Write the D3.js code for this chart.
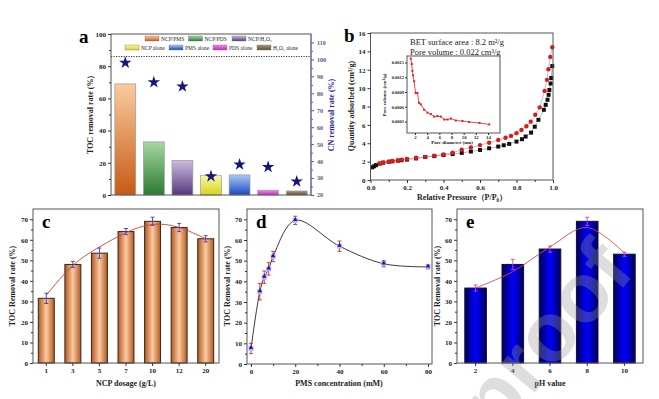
<!doctype html>
<html lang="en">
<head>
<meta charset="UTF-8">
<title>TOC removal</title>
<script src="https://cdn.jsdelivr.net/npm/d3@7"></script>
<style>
body { margin: 0; background: #fff; }
text { font-family: "Liberation Serif", "Times New Roman", serif; font-weight: bold; fill: #222; }
</style>
</head>
<body>
<svg id="fig" width="659" height="399"></svg>
<script>
// ---- panel a: systems
var sysNames = ['NCP/PMS', 'NCP/PDS', 'NCP/H₂O₂', 'NCP alone', 'PMS alone', 'PDS alone', 'H₂O₂ alone'];
var tocA = [69, 33, 21.5, 12, 12.5, 3, 2.5];
var cnA = [98, 86.5, 84, 31, 38, 36.5, 28];
var lightA = ['#fccb9e', '#a6d8a2', '#cdbbe0', '#f8f6a8', '#a8c8f4', '#f48ae8', '#a89a7a'];
var darkA = ['#c65a14', '#2c7a30', '#55387e', '#d8d418', '#1c48c0', '#d020c4', '#5c5030'];

// ---- panel b: N2 isotherm + pore size
var adsP = [0.01, 0.02, 0.03, 0.05, 0.07, 0.1, 0.12, 0.15, 0.17, 0.2, 0.25, 0.3, 0.35, 0.4, 0.45, 0.5, 0.55, 0.6, 0.65, 0.7, 0.73, 0.76, 0.8, 0.83, 0.85, 0.88, 0.9, 0.92, 0.95, 0.96, 0.97, 0.976, 0.98, 0.987, 0.99, 0.996];
var adsQ = [1.38, 1.5, 1.62, 1.78, 1.88, 1.98, 2.03, 2.1, 2.15, 2.22, 2.35, 2.5, 2.6, 2.72, 2.82, 2.95, 3.1, 3.27, 3.45, 3.64, 3.78, 3.93, 4.18, 4.44, 4.73, 5.16, 5.8, 6.55, 7.64, 8.18, 8.73, 9.27, 9.8, 10.5, 11.1, 12.4];
var desP = [0.996, 0.985, 0.975, 0.967, 0.954, 0.927, 0.903, 0.878, 0.854, 0.827, 0.8, 0.77, 0.74, 0.7, 0.65, 0.6, 0.55, 0.5, 0.45, 0.4, 0.35, 0.3, 0.25, 0.2, 0.17, 0.15, 0.12, 0.1, 0.07, 0.05];
var desQ = [14.45, 13.4, 12.05, 10.9, 9.7, 7.9, 7.1, 6.35, 5.85, 5.45, 5.1, 4.8, 4.6, 4.35, 4.05, 3.8, 3.55, 3.3, 2.97, 2.78, 2.65, 2.52, 2.42, 2.3, 2.22, 2.15, 2.08, 2.0, 1.9, 1.8];
var poreD = [1.3, 1.46, 1.57, 1.68, 1.85, 2.1, 2.4, 2.66, 2.94, 3.5, 4.05, 4.6, 5.15, 5.7, 6.25, 6.8, 7.35, 7.9, 8.7, 9.8, 10.9, 12.6, 14.2];
var poreV = [0.00158, 0.00147, 0.00133, 0.00124, 0.00112, 0.00088, 0.00088, 0.00068, 0.00065, 0.00054, 0.00048, 0.00045, 0.0004, 0.00041, 0.0004, 0.00034, 0.00034, 0.00036, 0.00032, 0.00031, 0.00029, 0.00027, 0.00024];

// ---- panel c: NCP dosage
var dosage = ['1', '3', '5', '7', '10', '12', '20'];
var tocC = [31.5, 48, 53.5, 64, 69, 66, 60.5];
var errC = [2.5, 1.5, 2.5, 1.5, 2, 2, 1.5];
var fitC = [33, 47.5, 56.5, 63.5, 67.5, 66, 60.5];

// ---- panel d: PMS concentration
var pms = [0, 4, 6, 8, 10, 20, 40, 60, 80];
var tocD = [7.5, 35, 42, 46, 52, 69.5, 57, 48.5, 47];
var errD = [2.5, 4, 3, 3, 2.5, 2, 2.5, 1.5, 1];

// ---- panel e: pH
var ph = ['2', '4', '6', '8', '10'];
var tocE = [36.5, 48, 55.5, 69, 53];
var errE = [1.5, 2.5, 1.5, 2, 1];
var fitE = [36.5, 44.5, 56.5, 66, 53.5];

var svg = d3.select('#fig');
var defs = svg.append('defs');

function vGrad(id, top, bottom) {
  var g = defs.append('linearGradient').attr('id', id)
    .attr('x1', 0).attr('y1', 0).attr('x2', 0).attr('y2', 1);
  g.append('stop').attr('offset', 0).attr('stop-color', top);
  g.append('stop').attr('offset', 1).attr('stop-color', bottom);
}
function hGrad(id, edge, mid) {
  var g = defs.append('linearGradient').attr('id', id);
  g.append('stop').attr('offset', 0).attr('stop-color', edge);
  g.append('stop').attr('offset', 0.5).attr('stop-color', mid);
  g.append('stop').attr('offset', 1).attr('stop-color', edge);
}
sysNames.forEach(function(n, i) { vGrad('ga' + i, lightA[i], darkA[i]); });
hGrad('gc', '#b05a22', '#fdcaa0');
hGrad('ge', '#00005a', '#0000ff');

function frame(x0, y0, x1, y1) {
  svg.append('rect').attr('x', x0).attr('y', y0)
    .attr('width', x1 - x0).attr('height', y1 - y0)
    .attr('fill', 'none').attr('stroke', '#555').attr('stroke-width', 1);
}
function styleAxis(g, size, color) {
  g.select('.domain').remove();
  g.selectAll('line').attr('stroke', color || '#333');
  g.selectAll('text').style('font-size', size + 'px').style('fill', color || '#222');
}
function minor(g) { g.selectAll('text').remove(); g.select('.domain').remove(); g.selectAll('line').attr('stroke', '#333'); }
function panelTag(x, y, s) {
  svg.append('text').attr('x', x).attr('y', y).text(s).style('font-size', '19px').style('fill', '#000');
}
function vTitle(x, y, s, color) {
  svg.append('text').attr('transform', 'translate(' + x + ',' + y + ') rotate(-90)')
    .attr('text-anchor', 'middle').style('font-size', '8px').style('fill', color || '#222').text(s);
}
function hTitle(x, y, s) {
  svg.append('text').attr('x', x).attr('y', y).attr('text-anchor', 'middle').style('font-size', '8px').text(s);
}
function errBars(data, xf, yf, color) {
  var g = svg.append('g').attr('stroke', color).attr('stroke-width', 0.9);
  data.forEach(function(d) {
    g.append('line').attr('x1', xf(d)).attr('x2', xf(d)).attr('y1', yf(d.v - d.e)).attr('y2', yf(d.v + d.e));
    g.append('line').attr('x1', xf(d) - 2).attr('x2', xf(d) + 2).attr('y1', yf(d.v - d.e)).attr('y2', yf(d.v - d.e));
    g.append('line').attr('x1', xf(d) - 2).attr('x2', xf(d) + 2).attr('y1', yf(d.v + d.e)).attr('y2', yf(d.v + d.e));
  });
}

// ================= panel a
var xa = d3.scaleBand().domain(sysNames).range([111, 311]).paddingInner(0.27).paddingOuter(0.135);
var ya = d3.scaleLinear().domain([0, 100]).range([195, 34]);
var ya2 = d3.scaleLinear().domain([20, 115]).range([195, 34]);

svg.selectAll('.barA').data(sysNames).enter().append('rect')
  .attr('x', function(d) { return xa(d); })
  .attr('width', xa.bandwidth())
  .attr('y', function(d, i) { return ya(tocA[i]); })
  .attr('height', function(d, i) { return ya(0) - ya(tocA[i]); })
  .attr('fill', function(d, i) { return 'url(#ga' + i + ')'; })
  .attr('stroke', '#9a9a9a').attr('stroke-width', 0.7);

svg.append('line').attr('x1', 111).attr('x2', 311).attr('y1', ya(86)).attr('y2', ya(86))
  .attr('stroke', '#333').attr('stroke-dasharray', '1.2,1.3');

svg.selectAll('.star').data(sysNames).enter().append('path')
  .attr('d', d3.symbol(d3.symbolStar).size(48))
  .attr('transform', function(d, i) { return 'translate(' + (xa(d) + xa.bandwidth() / 2) + ',' + ya2(cnA[i]) + ')'; })
  .attr('fill', '#16167a');

frame(111, 34, 311, 195);
svg.append('g').attr('transform', 'translate(111,0)')
  .call(d3.axisLeft(ya).tickValues([0, 20, 40, 60, 80, 100]).tickSize(3).tickPadding(2))
  .call(styleAxis, 7);
svg.append('g').attr('transform', 'translate(111,0)')
  .call(d3.axisLeft(ya).tickValues([10, 30, 50, 70, 90]).tickSize(2)).call(minor);
svg.append('g').attr('transform', 'translate(311,0)')
  .call(d3.axisRight(ya2).tickValues(d3.range(20, 111, 10)).tickSize(3).tickPadding(3))
  .call(styleAxis, 6, '#555590');
svg.append('g').attr('transform', 'translate(311,0)')
  .call(d3.axisRight(ya2).tickValues(d3.range(25, 115, 10)).tickSize(2)).call(minor)
  .selectAll('line').attr('stroke', '#555590');
svg.append('line').attr('x1', 311).attr('x2', 311).attr('y1', 34).attr('y2', 195).attr('stroke', '#7070a8');

// legend
var legA = svg.append('g');
sysNames.forEach(function(n, i) {
  var row = i < 3 ? 0 : 1;
  var x = row === 0 ? 145 + i * 43.5 : 125 + (i - 3) * 44;
  var y = row === 0 ? 36 : 45;
  legA.append('rect').attr('x', x).attr('y', y).attr('width', 14).attr('height', 5)
    .attr('fill', 'url(#ga' + i + ')').attr('stroke', '#777').attr('stroke-width', 0.4);
  legA.append('text').attr('x', x + 16).attr('y', y + 4.5).text(n)
    .style('font-size', '5.5px').style('font-weight', 'normal');
});

panelTag(79, 43, 'a');
vTitle(93, 115, 'TOC removal rate (%)');
vTitle(334, 115, 'CN removal rate (%)', '#26268a');

// ================= panel b
var xb = d3.scaleLinear().domain([0, 1]).range([370.5, 553]);
var yb = d3.scaleLinear().domain([0, 16]).range([180, 33]);
var lineB = d3.line().x(function(d) { return xb(d[0]); }).y(function(d) { return yb(d[1]); });
var ads = adsP.map(function(p, i) { return [p, adsQ[i]]; });
var des = desP.map(function(p, i) { return [p, desQ[i]]; });

svg.append('path').datum(ads).attr('d', lineB).attr('fill', 'none').attr('stroke', '#888').attr('stroke-width', 0.6);
svg.append('path').datum(des).attr('d', lineB).attr('fill', 'none').attr('stroke', '#999').attr('stroke-width', 0.6);
svg.selectAll('.ads').data(ads).enter().append('rect')
  .attr('x', function(d) { return xb(d[0]) - 2; }).attr('y', function(d) { return yb(d[1]) - 2; })
  .attr('width', 4).attr('height', 4).attr('fill', '#111');
svg.selectAll('.des').data(des).enter().append('circle')
  .attr('cx', function(d) { return xb(d[0]); }).attr('cy', function(d) { return yb(d[1]); })
  .attr('r', 2.2).attr('fill', '#e01818');

frame(370.5, 33, 553, 180);
svg.append('g').attr('transform', 'translate(0,180)')
  .call(d3.axisBottom(xb).tickValues([0, 0.2, 0.4, 0.6, 0.8, 1]).tickFormat(d3.format('.1f')).tickSize(3).tickPadding(2))
  .call(styleAxis, 7);
svg.append('g').attr('transform', 'translate(0,180)')
  .call(d3.axisBottom(xb).tickValues([0.1, 0.3, 0.5, 0.7, 0.9]).tickSize(2)).call(minor);
svg.append('g').attr('transform', 'translate(370.5,0)')
  .call(d3.axisLeft(yb).tickValues(d3.range(0, 17, 2)).tickSize(3).tickPadding(2))
  .call(styleAxis, 7);

svg.append('text').attr('x', 410).attr('y', 45).style('font-size', '8.5px').style('font-weight', 'normal').text('BET surface area : 8.2 m²/g');
svg.append('text').attr('x', 410).attr('y', 55).style('font-size', '8.5px').style('font-weight', 'normal').text('Pore volume : 0.022 cm³/g');

// inset
var xi = d3.scaleLinear().domain([2, 14]).range([415, 488]);
var yi = d3.scaleLinear().domain([0.0003, 0.0015]).range([121.5, 62.5]);
var pore = poreD.map(function(d, i) { return [d, poreV[i]]; });
svg.append('rect').attr('x', 407).attr('y', 56).attr('width', 93).attr('height', 77).attr('fill', '#fff');
svg.append('path').datum(pore)
  .attr('d', d3.line().x(function(d) { return xi(d[0]); }).y(function(d) { return yi(d[1]); }))
  .attr('fill', 'none').attr('stroke', '#e02020').attr('stroke-width', 0.8);
svg.selectAll('.pore').data(pore).enter().append('rect')
  .attr('x', function(d) { return xi(d[0]) - 1; }).attr('y', function(d) { return yi(d[1]) - 1; })
  .attr('width', 2).attr('height', 2).attr('fill', '#e02020');
frame(407, 56, 500, 133);
svg.append('g').attr('transform', 'translate(0,133)')
  .call(d3.axisBottom(xi).tickValues(d3.range(2, 15, 2)).tickSize(2).tickPadding(1))
  .call(styleAxis, 4.8);
svg.append('g').attr('transform', 'translate(407,0)')
  .call(d3.axisLeft(yi).tickValues([0.0003, 0.0006, 0.0009, 0.0012, 0.0015]).tickFormat(d3.format('.4f')).tickSize(2).tickPadding(1))
  .call(styleAxis, 4.5);
svg.append('text').attr('x', 452).attr('y', 144).attr('text-anchor', 'middle').style('font-size', '5px').text('Pore diameter (nm)');
svg.append('text').attr('transform', 'translate(386,95) rotate(-90)').attr('text-anchor', 'middle').style('font-size', '5px').text('Pore volume (cm³/g)');

panelTag(344, 42, 'b');
vTitle(354, 106, 'Quantity adsorbed (cm³/g)');
hTitle(462, 200, 'Relative Pressure（P/P₀）');

// ================= panel c
var xc = d3.scaleBand().domain(dosage).range([33, 219]).paddingInner(0.4).paddingOuter(0.2);
var yc = d3.scaleLinear().domain([0, 75]).range([363, 209]);
var dataC = dosage.map(function(k, i) { return { k: k, v: tocC[i], e: errC[i], f: fitC[i] }; });
var cx = function(d) { return xc(d.k) + xc.bandwidth() / 2; };

svg.selectAll('.barC').data(dataC).enter().append('rect')
  .attr('x', function(d) { return xc(d.k); }).attr('width', xc.bandwidth())
  .attr('y', function(d) { return yc(d.v); }).attr('height', function(d) { return yc(0) - yc(d.v); })
  .attr('fill', 'url(#gc)').attr('stroke', '#3a2418').attr('stroke-width', 1);
svg.append('path').datum(dataC)
  .attr('d', d3.line().x(cx).y(function(d) { return yc(d.f); }).curve(d3.curveNatural))
  .attr('fill', 'none').attr('stroke', '#d43c3c').attr('stroke-width', 0.9);
errBars(dataC, cx, yc, '#3c3cc0');

frame(33, 209, 219, 363);
svg.append('g').attr('transform', 'translate(0,363)')
  .call(d3.axisBottom(xc).tickSize(3).tickPadding(2)).call(styleAxis, 7);
svg.append('g').attr('transform', 'translate(33,0)')
  .call(d3.axisLeft(yc).tickValues(d3.range(0, 71, 10)).tickSize(3).tickPadding(2)).call(styleAxis, 7);
svg.append('g').attr('transform', 'translate(33,0)')
  .call(d3.axisLeft(yc).tickValues(d3.range(5, 75, 10)).tickSize(2)).call(minor);
panelTag(42, 228, 'c');
vTitle(15, 286, 'TOC Removal rate (%)');
hTitle(126, 386, 'NCP dosage (g/L)');

// ================= panel d
var xd = d3.scaleLinear().domain([-1.8, 81.8]).range([247, 432]);
var yd = d3.scaleLinear().domain([0, 75]).range([364, 209]);
var dataD = pms.map(function(p, i) { return { p: p, v: tocD[i], e: errD[i] }; });
var dx = function(d) { return xd(d.p); };

svg.append('path').datum(dataD)
  .attr('d', d3.line().x(dx).y(function(d) { return yd(d.v); }).curve(d3.curveCatmullRom.alpha(0.5)))
  .attr('fill', 'none').attr('stroke', '#222').attr('stroke-width', 0.9);
errBars(dataD, dx, yd, '#d42a2a');
svg.selectAll('.ptD').data(dataD).enter().append('rect')
  .attr('x', function(d) { return dx(d) - 2.5; }).attr('y', function(d) { return yd(d.v) - 2.5; })
  .attr('width', 5).attr('height', 5).attr('fill', '#b8b8ec');
svg.selectAll('.ptD2').data(dataD).enter().append('path')
  .attr('d', d3.symbol(d3.symbolTriangle).size(9))
  .attr('transform', function(d) { return 'translate(' + dx(d) + ',' + (yd(d.v) - 0.7) + ')'; })
  .attr('fill', '#1212c8');

frame(247, 209, 432, 364);
svg.append('g').attr('transform', 'translate(0,364)')
  .call(d3.axisBottom(xd).tickValues([0, 20, 40, 60, 80]).tickSize(3).tickPadding(2)).call(styleAxis, 7);
svg.append('g').attr('transform', 'translate(0,364)')
  .call(d3.axisBottom(xd).tickValues([10, 30, 50, 70]).tickSize(2)).call(minor);
svg.append('g').attr('transform', 'translate(247,0)')
  .call(d3.axisLeft(yd).tickValues(d3.range(0, 71, 10)).tickSize(3).tickPadding(2)).call(styleAxis, 7);
svg.append('g').attr('transform', 'translate(247,0)')
  .call(d3.axisLeft(yd).tickValues(d3.range(5, 75, 10)).tickSize(2)).call(minor);
panelTag(256, 228, 'd');
vTitle(230, 286, 'TOC Removal rate (%)');
hTitle(339, 386, 'PMS concentration (mM)');

// ================= panel e
var xe = d3.scaleBand().domain(ph).range([457, 643]).paddingInner(0.42).paddingOuter(0.21);
var ye = d3.scaleLinear().domain([0, 75]).range([363, 209]);
var dataE = ph.map(function(k, i) { return { k: k, v: tocE[i], e: errE[i], f: fitE[i] }; });
var ex = function(d) { return xe(d.k) + xe.bandwidth() / 2; };

svg.selectAll('.barE').data(dataE).enter().append('rect')
  .attr('x', function(d) { return xe(d.k); }).attr('width', xe.bandwidth())
  .attr('y', function(d) { return ye(d.v); }).attr('height', function(d) { return ye(0) - ye(d.v); })
  .attr('fill', 'url(#ge)').attr('stroke', '#101030').attr('stroke-width', 1);
svg.append('path').datum(dataE)
  .attr('d', d3.line().x(ex).y(function(d) { return ye(d.f); }).curve(d3.curveCardinal))
  .attr('fill', 'none').attr('stroke', '#d24848').attr('stroke-width', 0.9);
errBars(dataE, ex, ye, '#d040c8');

frame(457, 209, 643, 363);
svg.append('g').attr('transform', 'translate(0,363)')
  .call(d3.axisBottom(xe).tickSize(3).tickPadding(2)).call(styleAxis, 7);
svg.append('g').attr('transform', 'translate(457,0)')
  .call(d3.axisLeft(ye).tickValues(d3.range(0, 71, 10)).tickSize(3).tickPadding(2)).call(styleAxis, 7);
svg.append('g').attr('transform', 'translate(457,0)')
  .call(d3.axisLeft(ye).tickValues(d3.range(5, 75, 10)).tickSize(2)).call(minor);
panelTag(466, 228, 'e');
vTitle(440, 286, 'TOC Removal rate (%)');
hTitle(550, 386, 'pH value');

// watermark
svg.append('text').attr('transform', 'translate(636,272) rotate(-50)')
  .attr('text-anchor', 'end').style('font-family', '"Liberation Sans", Arial, sans-serif')
  .style('font-size', '84px').style('fill', '#9a9a9a').style('opacity', 0.32)
  .text('Journal Pre-proof');
</script>
</body>
</html>
